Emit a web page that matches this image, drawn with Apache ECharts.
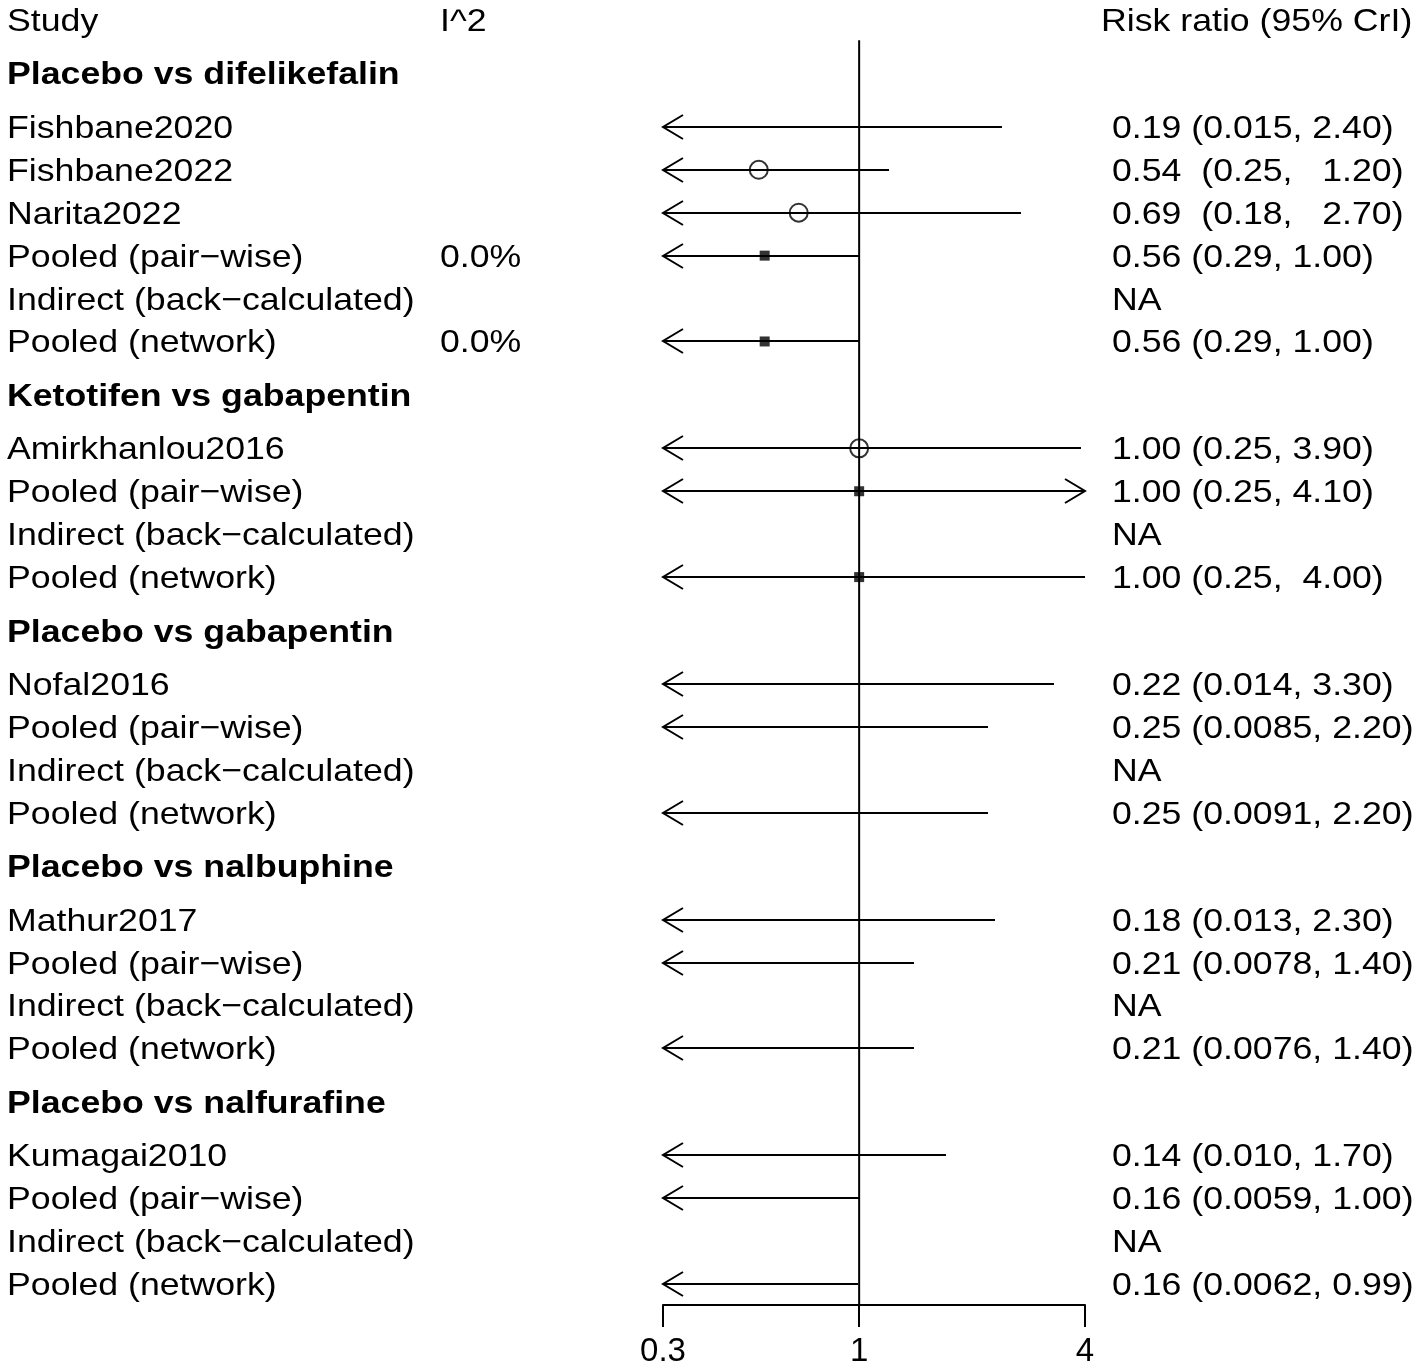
<!DOCTYPE html>
<html>
<head>
<meta charset="utf-8">
<title>Forest plot</title>
<script src="https://cdn.jsdelivr.net/npm/echarts@6/dist/echarts.min.js"></script>
<style>
  html, body { margin: 0; padding: 0; background: #fff; }
  #chart { width: 1418px; height: 1368px; }
</style>
</head>
<body>
<div id="chart"></div>
<script>
// comparisons (group headers)
const groupNames = [
  'Placebo vs difelikefalin',
  'Ketotifen vs gabapentin',
  'Placebo vs gabapentin',
  'Placebo vs nalbuphine',
  'Placebo vs nalfurafine'
]

// one entry per row, in plot order
const rowGroup = [0, 0, 0, 0, 0, 0, 1, 1, 1, 1, 2, 2, 2, 2, 3, 3, 3, 3, 4, 4, 4, 4]
const rowLabels = [
  'Fishbane2020', 'Fishbane2022', 'Narita2022', 'Pooled (pair\u2212wise)', 'Indirect (back\u2212calculated)', 'Pooled (network)',
  'Amirkhanlou2016', 'Pooled (pair\u2212wise)', 'Indirect (back\u2212calculated)', 'Pooled (network)',
  'Nofal2016', 'Pooled (pair\u2212wise)', 'Indirect (back\u2212calculated)', 'Pooled (network)',
  'Mathur2017', 'Pooled (pair\u2212wise)', 'Indirect (back\u2212calculated)', 'Pooled (network)',
  'Kumagai2010', 'Pooled (pair\u2212wise)', 'Indirect (back\u2212calculated)', 'Pooled (network)'
]
const rowKinds = [
  'study', 'study', 'study', 'pooled', 'indirect', 'pooled',
  'study', 'pooled', 'indirect', 'pooled',
  'study', 'pooled', 'indirect', 'pooled',
  'study', 'pooled', 'indirect', 'pooled',
  'study', 'pooled', 'indirect', 'pooled'
]
const rowI2 = [
  '', '', '', '0.0%', '', '0.0%',
  '', '', '', '',
  '', '', '', '',
  '', '', '', '',
  '', '', '', ''
]
const estimates = [
  0.19, 0.54, 0.69, 0.56, null, 0.56,
  1.00, 1.00, null, 1.00,
  0.22, 0.25, null, 0.25,
  0.18, 0.21, null, 0.21,
  0.14, 0.16, null, 0.16
]
const lowerBounds = [
  0.015, 0.25, 0.18, 0.29, null, 0.29,
  0.25, 0.25, null, 0.25,
  0.014, 0.0085, null, 0.0091,
  0.013, 0.0078, null, 0.0076,
  0.010, 0.0059, null, 0.0062
]
const upperBounds = [
  2.40, 1.20, 2.70, 1.00, null, 1.00,
  3.90, 4.10, null, 4.00,
  3.30, 2.20, null, 2.20,
  2.30, 1.40, null, 1.40,
  1.70, 1.00, null, 0.99
]
const ciTexts = [
  '0.19 (0.015, 2.40)', '0.54  (0.25,   1.20)', '0.69  (0.18,   2.70)', '0.56 (0.29, 1.00)', 'NA', '0.56 (0.29, 1.00)',
  '1.00 (0.25, 3.90)', '1.00 (0.25, 4.10)', 'NA', '1.00 (0.25,  4.00)',
  '0.22 (0.014, 3.30)', '0.25 (0.0085, 2.20)', 'NA', '0.25 (0.0091, 2.20)',
  '0.18 (0.013, 2.30)', '0.21 (0.0078, 1.40)', 'NA', '0.21 (0.0076, 1.40)',
  '0.14 (0.010, 1.70)', '0.16 (0.0059, 1.00)', 'NA', '0.16 (0.0062, 0.99)'
]
const axisTicks = [0.3, 1, 4]
const columnHeads = ['Study', 'I^2', 'Risk ratio (95% CrI)']

// layout
const FONT = '"Liberation Sans", Arial, Helvetica, sans-serif'
const FONT_SIZE = 32
const STRETCH = 1.115
const TEXT_DY = 2
const COL_LABEL = 7
const COL_I2 = 440
const COL_CI = 1112
const COL_CI_HEAD = 1101
const HEAD_GAP = 1.245
const X_MIN = axisTicks[0]
const X_MAX = axisTicks[axisTicks.length - 1]

// vertical positions of every printed line
const items = []
let yPos = 0
items.push({ type: 'head', y: yPos })
groupNames.forEach((name, g) => {
  yPos += HEAD_GAP
  items.push({ type: 'group', g, y: yPos })
  let first = true
  rowGroup.forEach((rg, r) => {
    if (rg !== g) return
    yPos += first ? HEAD_GAP : 1
    first = false
    items.push({ type: 'row', r, y: yPos })
  })
})
const yMax = yPos + 0.49
const rowY = {}
items.forEach(it => { if (it.type === 'row') rowY[it.r] = it.y })

function label (text, x, y, bold) {
  return {
    type: 'text',
    x,
    y: y + TEXT_DY,
    scaleX: STRETCH,
    style: {
      text,
      x: 0,
      y: 0,
      fill: '#000',
      fontSize: FONT_SIZE,
      fontFamily: FONT,
      fontWeight: bold ? 'bold' : 'normal',
      align: 'left',
      verticalAlign: 'middle'
    }
  }
}

const lineStyle = { stroke: '#000', lineWidth: 2, fill: null }

function renderItem (params, api) {
  const it = items[params.dataIndex]
  const py = Math.round(api.coord([1, it.y])[1])
  const children = []
  if (it.type === 'head') {
    children.push(label(columnHeads[0], COL_LABEL, py))
    children.push(label(columnHeads[1], COL_I2, py))
    children.push(label(columnHeads[2], COL_CI_HEAD, py))
  } else if (it.type === 'group') {
    children.push(label(groupNames[it.g], COL_LABEL, py, true))
  } else {
    const r = it.r
    children.push(label(rowLabels[r], COL_LABEL, py))
    if (rowI2[r]) children.push(label(rowI2[r], COL_I2, py))
    children.push(label(ciTexts[r], COL_CI, py))
    const lo = lowerBounds[r]
    const hi = upperBounds[r]
    if (lo != null && hi != null) {
      const x0 = Math.round(api.coord([Math.max(lo, X_MIN), it.y])[0])
      const x1 = Math.round(api.coord([Math.min(hi, X_MAX), it.y])[0])
      children.push({ type: 'line', shape: { x1: x0, y1: py, x2: x1, y2: py }, style: lineStyle })
      if (lo < X_MIN) {
        children.push({ type: 'polyline', shape: { points: [[x0 + 20, py - 12], [x0, py], [x0 + 20, py + 12]] }, style: lineStyle })
      }
      if (hi > X_MAX) {
        children.push({ type: 'polyline', shape: { points: [[x1 - 20, py - 12], [x1, py], [x1 - 20, py + 12]] }, style: lineStyle })
      }
    }
  }
  return { type: 'group', children }
}

function markerData (kind) {
  const out = []
  estimates.forEach((est, r) => {
    if (rowKinds[r] === kind && est != null && est >= X_MIN && est <= X_MAX) out.push([est, rowY[r]])
  })
  return out
}

const chart = echarts.init(document.getElementById('chart'))
chart.setOption({
  animation: false,
  backgroundColor: '#fff',
  grid: { left: 663, right: 333, top: 20, bottom: 63 },
  xAxis: {
    type: 'log',
    logBase: 10,
    min: X_MIN,
    max: X_MAX,
    position: 'bottom',
    axisLine: { show: true, onZero: false, lineStyle: { color: '#000', width: 2 } },
    axisTick: { show: true, length: 22, lineStyle: { color: '#000', width: 2 } },
    axisLabel: {
      color: '#000',
      fontSize: 33,
      fontFamily: FONT,
      margin: 30,
      showMinLabel: true,
      showMaxLabel: true,
      formatter: v => String(Math.round(v * 10) / 10)
    },
    splitLine: { show: false }
  },
  yAxis: { type: 'value', inverse: true, min: 0, max: yMax, show: false },
  series: [
    {
      type: 'line',
      data: [[1, 0.47], [1, yMax]],
      symbol: 'none',
      lineStyle: { color: '#000', width: 2 },
      z: 1
    },
    {
      type: 'custom',
      data: items.map(it => [1, it.y]),
      renderItem,
      clip: false,
      z: 2
    },
    {
      type: 'scatter',
      data: markerData('study'),
      symbol: 'circle',
      symbolSize: 18,
      itemStyle: { color: 'rgba(0,0,0,0)', borderColor: '#000', borderWidth: 2 },
      z: 3
    },
    {
      type: 'scatter',
      data: markerData('pooled'),
      symbol: 'rect',
      symbolSize: 10,
      itemStyle: { color: '#000' },
      z: 3
    }
  ]
})
</script>
</body>
</html>
